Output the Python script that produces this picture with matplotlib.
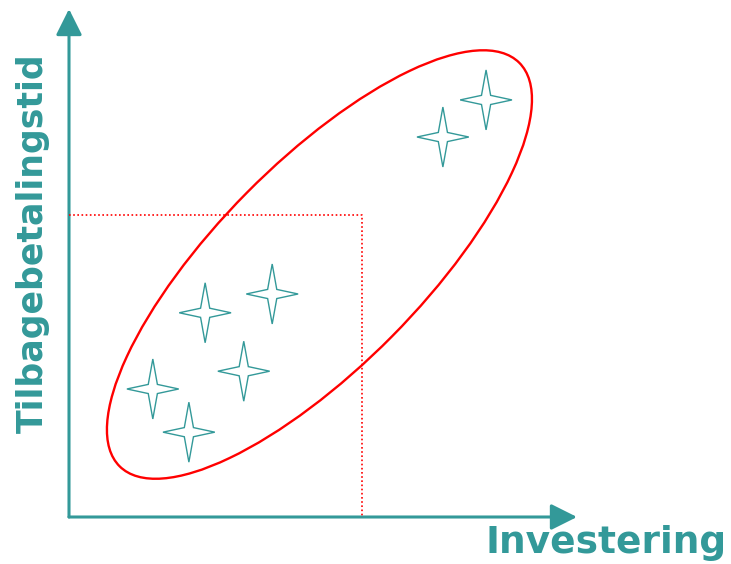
import matplotlib
matplotlib.use("Agg")
import matplotlib.pyplot as plt
from matplotlib.patches import Ellipse, Polygon, FancyArrowPatch

# star positions (investering, tilbagebetalingstid)
invest = [1.65, 2.36, 2.68, 3.44, 4.00, 7.36, 8.21]
payback = [2.52, 1.67, 4.02, 2.87, 4.39, 7.48, 8.21]

# dotted limit box
invest_limit = 5.77
payback_limit = 5.94

# grouping ellipse
ell_center = (4.93, 4.97)
ell_width = 11.18
ell_height = 4.02
ell_angle = 45.3

teal = "#339999"
red = "#ff0000"

fig = plt.figure(figsize=(7.31, 5.64), dpi=100)
# axes placed so the origin sits at the axis corner
ax = fig.add_axes([69 / 731, 47 / 564, 508 / 731, 508 / 564])
ax.set_xlim(0, 10)
ax.set_ylim(0, 10)
ax.axis("off")

# axes with arrows
for end in [(10, 0), (0, 10)]:
    arr = FancyArrowPatch((0, 0), end, arrowstyle="-|>,head_length=1.0,head_width=0.5",
                          mutation_scale=16, color=teal, lw=2.2, shrinkA=0, shrinkB=0,
                          clip_on=False)
    ax.add_patch(arr)

# dotted box
ax.plot([0, invest_limit, invest_limit], [payback_limit, payback_limit, 0],
        color=red, lw=1.2, ls=(0, (1, 1.5)), clip_on=False)

# ellipse
ax.add_patch(Ellipse(ell_center, ell_width, ell_height, angle=ell_angle,
                     fill=False, edgecolor=red, lw=1.7, clip_on=False))

# four pointed stars
sx, sy, si = 0.51, 0.59, 0.09
for x, y in zip(invest, payback):
    pts = [(x, y + sy), (x + si, y + si), (x + sx, y), (x + si, y - si),
           (x, y - sy), (x - si, y - si), (x - sx, y), (x - si, y + si)]
    ax.add_patch(Polygon(pts, closed=True, fill=False, edgecolor=teal, lw=1.0))

fig.text(727 / 731, 1 - 553 / 564, "Investering", ha="right", va="baseline",
         fontsize=27, fontweight="bold", color=teal)
fig.text(33 / 731, 1 - 243 / 564, "Tilbagebetalingstid", ha="center", va="center",
         rotation=90, fontsize=25, fontweight="bold", color=teal)

fig.savefig("out.png", dpi=100)
